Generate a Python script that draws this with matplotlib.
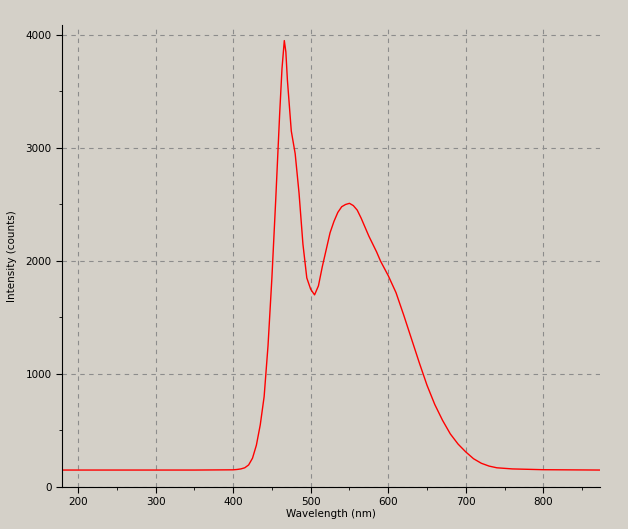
import matplotlib
matplotlib.use("Agg")
import matplotlib.pyplot as plt
from matplotlib.ticker import MultipleLocator

wavelength = [180, 250, 300, 350, 400, 405, 410, 415, 420, 425, 430, 435, 440, 445, 450, 455, 460, 463, 466, 468,
              470, 475, 480, 485, 490, 495, 500, 505, 510, 515, 520, 525, 530, 535, 540, 545, 550, 555,
              560, 565, 570, 575, 580, 585, 590, 600, 610, 620, 630, 640, 650, 660, 670, 680, 690, 700,
              710, 720, 730, 740, 760, 800, 873]
intensity = [150, 150, 150, 150, 152, 155, 160, 170, 195, 255, 370, 550, 800, 1250, 1850, 2550, 3300, 3700, 3950, 3850,
             3600, 3150, 2950, 2600, 2150, 1850, 1750, 1700, 1780, 1950, 2100, 2250, 2350, 2430, 2480, 2500, 2510, 2490,
             2450, 2380, 2300, 2220, 2150, 2080, 2000, 1870, 1720, 1520, 1310, 1100, 900, 730, 590, 470, 380, 310,
             250, 210, 185, 170, 160, 153, 150]

bg = "#d4d0c8"
fig = plt.figure(figsize=(6.28, 5.29), dpi=100, facecolor=bg)
ax = fig.add_axes([62/628, 42/529, 538/628, 462/529], facecolor=bg)
ax.plot(wavelength, intensity, color="red", lw=1)
ax.set_xlim(179.4, 873)
ax.set_ylim(0, 4088)
ax.xaxis.set_major_locator(MultipleLocator(100))
ax.xaxis.set_minor_locator(MultipleLocator(50))
ax.yaxis.set_major_locator(MultipleLocator(1000))
ax.yaxis.set_minor_locator(MultipleLocator(500))
ax.grid(True, which="major", color="#8c8c8c", ls=(0, (4, 4)), lw=0.8)
for s in ["top", "right"]:
    ax.spines[s].set_visible(False)
ax.tick_params(labelsize=7.5, direction="out", length=4)
ax.tick_params(which="minor", length=2)
ax.set_xlabel("Wavelength (nm)", fontsize=7.5, labelpad=1)
ax.set_ylabel("Intensity (counts)", fontsize=7.5, labelpad=6)
fig.savefig("out.png", dpi=100, facecolor=bg)
